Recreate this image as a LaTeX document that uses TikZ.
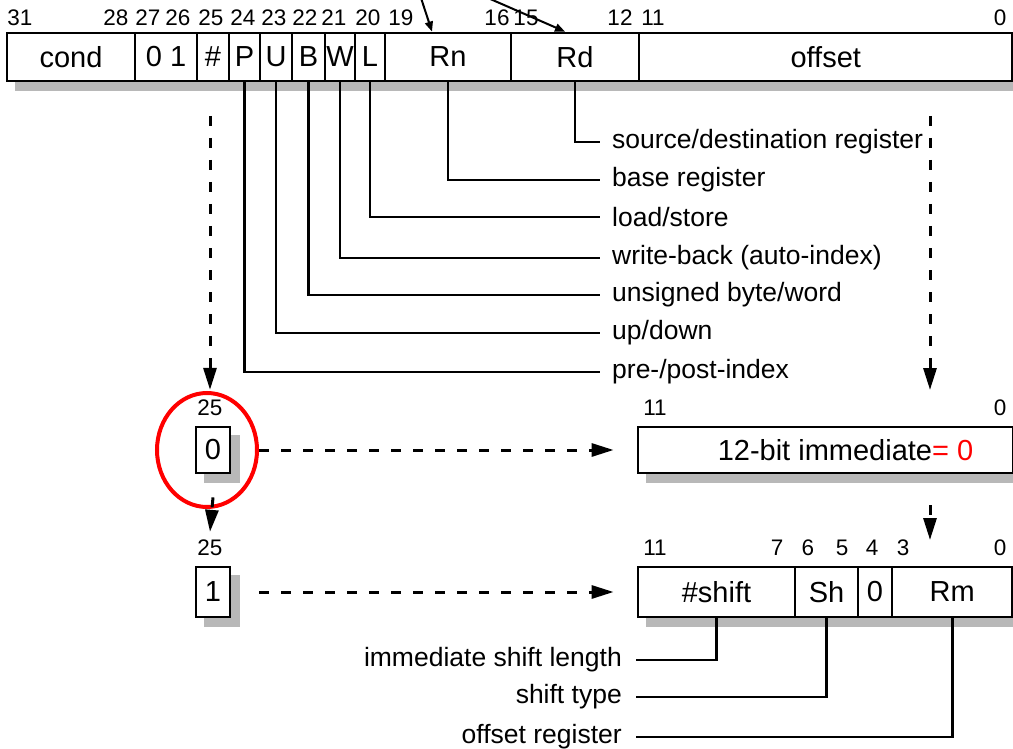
\documentclass[tikz,border=0pt]{standalone}
\usepackage{fontspec}
\setmainfont{Liberation Sans}
\usetikzlibrary{arrows.meta, positioning, shapes.geometric, backgrounds}

\begin{document}
\begin{tikzpicture}[
  x=1pt, y=-1pt,
  fld/.style={draw, line width=2.8pt, fill=white, inner sep=0pt,
              minimum height=48pt, font=\fontsize{29}{31}\selectfont},
  bitno/.style={inner sep=0pt, font=\fontsize{22.5}{24}\selectfont},
  lbl/.style={inner sep=0pt, anchor=west, font=\fontsize{26.5}{28}\selectfont},
  rlbl/.style={lbl, anchor=east},
  lead/.style={line width=2.8pt},
  shade/.style={fill=black!28},
  arr/.style={-{Triangle[length=10pt, width=8pt]}, line width=2pt},
  darr/.style={-{Triangle[length=22pt, width=13pt]}, line width=3pt,
               dash pattern=on 10pt off 12pt}
]
\useasboundingbox (0,0) rectangle (1013,749);

% instruction word
\node[fld, minimum width=128pt] (cond) at (71,57) {cond};
\node[fld, minimum width=62pt] (ldst) at (166,57) {0 1};
\node[fld, minimum width=32pt] (imm) at (213,57) {\#};
\node[fld, minimum width=31pt] (P) at (244.5,57) {P};
\node[fld, minimum width=32pt] (U) at (276,57) {U};
\node[fld, minimum width=33pt] (B) at (308.5,57) {B};
\node[fld, minimum width=30pt] (W) at (340,57) {W};
\node[fld, minimum width=30pt] (L) at (370,57) {L};
\node[fld, minimum width=126pt] (Rn) at (448,57) {Rn};
\node[fld, minimum width=128pt] (Rd) at (575,57) {Rd};
\node[fld, minimum width=373.5pt] (offset) at (825.75,57) {offset};

\foreach \x/\n in {20/31, 116/28, 148/27, 178/26, 211/25, 243/24, 274/23,
                   305/22, 334/21, 368/20, 401/19, 497/16, 526/15, 620/12,
                   653/11, 1000/0}
  \node[bitno] (top\n) at (\x,18) {\n};

\coordinate (srcA) at (421,-2);
\coordinate (srcB) at (488,-2);
\draw[arr] (srcA) -- ([xshift=-16pt]Rn.north);
\draw[arr] (srcB) -- ([xshift=-10pt]Rd.north);

% field meanings
\node[lbl] (lRd) at (612,142) {source/destination register};
\node[lbl] (lRn) at (612,180) {base register};
\node[lbl] (lL) at (612,217) {load/store};
\node[lbl] (lW) at (612,258) {write-back (auto-index)};
\node[lbl] (lB) at (612,295) {unsigned byte/word};
\node[lbl] (lU) at (612,333) {up/down};
\node[lbl] (lP) at (612,372) {pre-/post-index};

\foreach \f in {Rd, Rn, L, W, B, U, P}
  \draw[lead] (\f.south) |- ([xshift=-12pt]l\f.west);

% immediate offset
\node[bitno] (mid25) at (210,408) {25};
\node[fld, minimum width=34pt, minimum height=46pt] (zero) at (213,450) {0};
\node[bitno] (mid11) at (655,408) {11};
\node[bitno] (mid0) at (1000,408) {0};
\node[fld, minimum width=375pt, minimum height=46pt] (imb) at (825.5,450)
  {\hspace*{40pt}12-bit immediate\textcolor{red}{= 0}};
\node[draw=red, line width=4pt, ellipse, minimum width=100pt,
      minimum height=114pt] (ring) at (207,450) {};

% register offset
\node[bitno] (low25) at (210,548) {25};
\node[fld, minimum width=34pt, minimum height=50pt] (one) at (213,592) {1};
\foreach \x/\n in {655/11, 777/7, 808/6, 842/5, 872/4, 903/3, 1000/0}
  \node[bitno] (low\n) at (\x,548) {\n};
\node[fld, minimum width=157pt, minimum height=50pt] (Shft) at (716.5,592) {\#shift};
\node[fld, minimum width=63pt, minimum height=50pt] (Sh) at (826.5,592) {Sh};
\node[fld, minimum width=34pt, minimum height=50pt] (zbit) at (875,592) {\raisebox{-3pt}{0}};
\node[fld, minimum width=120.5pt, minimum height=50pt] (Rm) at (952.25,592) {Rm};

\node[rlbl] (lShft) at (622,660) {immediate shift length};
\node[rlbl] (lSh) at (622,697) {shift type};
\node[rlbl] (lRm) at (622,737) {offset register};
\foreach \f in {Shft, Sh, Rm}
  \draw[lead] (\f.south) |- ([xshift=14pt]l\f.east);

% dashed flow
\coordinate (dnL) at (210,116);
\coordinate (dnR) at (930,116);
\coordinate (dnRend) at (930,390);
\coordinate (dnR2) at (930,505);
\coordinate (dnR2end) at (930,540);
\draw[darr] (dnL) -- ([yshift=10pt]mid25.north);
\draw[darr] (dnR) -- (dnRend);
\draw[darr] ([yshift=-23pt]zero.south) -- ([yshift=8pt]low25.north);
\draw[darr] (ring.east) -- ([xshift=-23pt]imb.west);
\draw[darr] ([xshift=28pt]one.east) -- ([xshift=-23pt]Shft.west);
\draw[darr] (dnR2) -- (dnR2end);

% shadows
\begin{scope}[on background layer]
  \fill[shade] ([shift={(9,9)}]cond.north west) rectangle ([shift={(9,9)}]offset.south east);
  \fill[shade] ([shift={(9,9)}]zero.north west) rectangle ([shift={(9,9)}]zero.south east);
  \fill[shade] ([shift={(9,9)}]imb.north west) rectangle ([shift={(9,9)}]imb.south east);
  \fill[shade] ([shift={(9,9)}]one.north west) rectangle ([shift={(9,9)}]one.south east);
  \fill[shade] ([shift={(9,9)}]Shft.north west) rectangle ([shift={(9,9)}]Rm.south east);
\end{scope}
\end{tikzpicture}
\end{document}
